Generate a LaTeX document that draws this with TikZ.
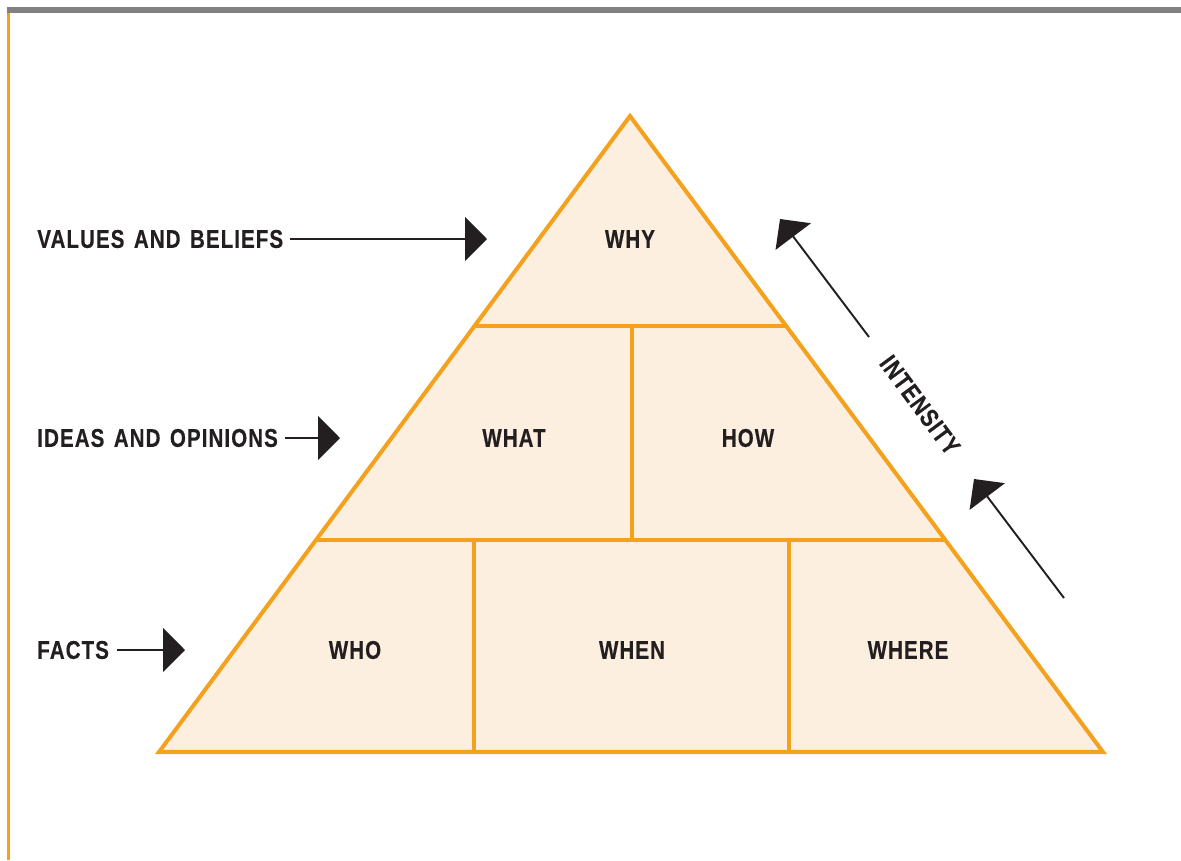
\documentclass[tikz,border=0pt]{standalone}
\usepackage{fontspec}
\setmainfont[FakeStretch=0.8, LetterSpace=4.2, WordSpace=1.4, FakeBold=0.4]{Liberation Sans}
\usetikzlibrary{arrows.meta}

\definecolor{pyrorange}{HTML}{F4A11E}
\definecolor{pyrfill}{HTML}{FDEFE0}
\definecolor{pyrgray}{HTML}{818181}
\definecolor{pyrink}{HTML}{231F20}

\tikzset{
  lbl/.style={font=\fontsize{14.6}{17}\selectfont\bfseries, text=pyrink, inner sep=0pt},
  edge/.style={draw=pyrorange, line width=2.3pt},
  pointer/.style={draw=pyrink, line width=1.1pt, -{Triangle[length=0.44cm, width=0.88cm]}}
}

\begin{document}
\begin{tikzpicture}[x=0.02cm, y=-0.02cm]
\useasboundingbox (0,0) rectangle (1181,860);

% frame
\draw[pyrgray, line width=3.4pt] (7,10) -- (1181,10);
\draw[pyrorange, line width=1.7pt] (8.7,13) -- (8.7,860);

% pyramid
\fill[pyrfill] (630,116) -- (159,752) -- (1103,752) -- cycle;
\draw[edge] (474.5,326) -- (786,326);
\draw[edge] (316,540) -- (945,540);
\draw[edge] (632,326) -- (632,540);
\draw[edge] (474,540) -- (474,752);
\draw[edge] (789,540) -- (789,752);
\draw[edge, line join=miter] (630,116) -- (159,752) -- (1103,752) -- cycle;

\node[lbl] (why) at (630,239) {WHY};
\node[lbl] (what) at (514,438) {WHAT};
\node[lbl] (how) at (748,438) {HOW};
\node[lbl] (who) at (355,650) {WHO};
\node[lbl] (when) at (632,650) {WHEN};
\node[lbl] (where) at (908,650) {WHERE};

% levels
\node[lbl, anchor=west] (values) at (37,239) {VALUES AND BELIEFS};
\node[lbl, anchor=west] (ideas) at (37,438) {IDEAS AND OPINIONS};
\node[lbl, anchor=west] (facts) at (37,650) {FACTS};
\coordinate (valuestip) at (487,239);
\coordinate (ideastip) at (340,438);
\coordinate (factstip) at (185,650);
\draw[pointer, shorten <=0.12cm] (values.east) -- (valuestip);
\draw[pointer, shorten <=0.14cm] (ideas.east) -- (ideastip);
\draw[pointer, shorten <=0.16cm] (facts.east) -- (factstip);

% intensity
\node[lbl, rotate=-53.5] (intensity) at (920,405) {INTENSITY};
\coordinate (uptail) at (869,337);
\coordinate (uptip) at (780,219);
\coordinate (lowtail) at (1064,598);
\coordinate (lowtip) at (974,479);
\draw[pointer] (uptail) -- (uptip);
\draw[pointer] (lowtail) -- (lowtip);

\end{tikzpicture}
\end{document}
